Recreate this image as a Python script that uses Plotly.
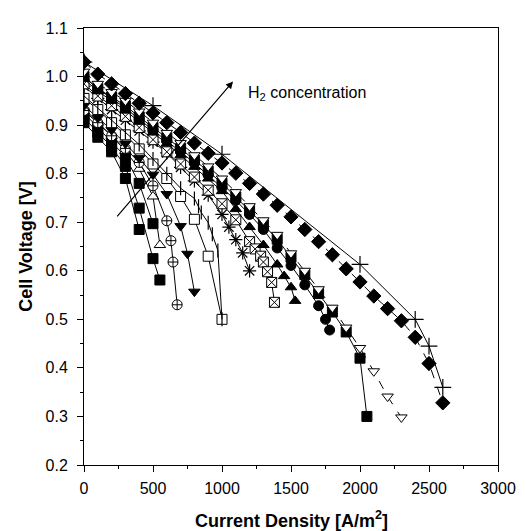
import plotly.graph_objects as go

# ---- data ----
plus_x = [0, 500, 1000, 2000, 2400, 2500, 2600]
plus_y = [1.03, 0.94, 0.84, 0.613, 0.50, 0.445, 0.36]

dia_x = [0, 100, 200, 300, 400, 500, 600, 700, 800, 900, 1000, 1100, 1200, 1300,
         1400, 1500, 1600, 1700, 1800, 1900, 2000, 2100, 2200, 2300, 2400, 2500, 2600]
dia_y = [1.03, 1.005, 0.985, 0.965, 0.945, 0.925, 0.905, 0.885, 0.863, 0.842, 0.822,
         0.801, 0.780, 0.758, 0.735, 0.711, 0.685, 0.660, 0.633, 0.604, 0.577, 0.548,
         0.522, 0.497, 0.463, 0.409, 0.328]

tdo_x = [0, 100, 200, 300, 400, 500, 600, 700, 800, 900, 1000, 1100, 1200, 1300,
         1400, 1500, 1600, 1700, 1800, 1900, 2000, 2100, 2200, 2300]
tdo_y = [1.01, 0.985, 0.968, 0.950, 0.928, 0.905, 0.884, 0.863, 0.838, 0.815, 0.790,
         0.762, 0.733, 0.704, 0.674, 0.636, 0.600, 0.562, 0.524, 0.483, 0.441, 0.393,
         0.341, 0.298]

sqd_x = [0, 100, 200, 300, 400, 500, 600, 700, 800, 900, 1000, 1100, 1200, 1300,
         1400, 1500, 1600, 1700, 1800, 1900, 2000, 2050]
sqd_y = [1.0, 0.975, 0.958, 0.94, 0.917, 0.895, 0.874, 0.852, 0.828, 0.805, 0.78,
         0.752, 0.724, 0.695, 0.665, 0.628, 0.592, 0.553, 0.515, 0.474, 0.42, 0.30]

tu_x = [0, 100, 200, 300, 400, 500, 600, 700, 800, 900, 1000, 1100, 1200, 1300,
        1400, 1450, 1500, 1530]
tu_y = [0.995, 0.97, 0.95, 0.93, 0.907, 0.885, 0.862, 0.838, 0.814, 0.79, 0.764,
        0.727, 0.690, 0.653, 0.613, 0.589, 0.566, 0.538]

cir_x = [0, 100, 200, 300, 400, 500, 600, 700, 800, 900, 1000, 1100, 1200, 1300,
         1400, 1500, 1600, 1700, 1750, 1780]
cir_y = [1.0, 0.975, 0.955, 0.935, 0.912, 0.89, 0.868, 0.845, 0.822, 0.797, 0.771,
         0.745, 0.716, 0.685, 0.647, 0.611, 0.571, 0.528, 0.500, 0.478]

sqx_x = [0, 100, 200, 300, 400, 500, 600, 700, 800, 900, 1000, 1100, 1200, 1240,
         1280, 1300, 1330, 1360, 1380]
sqx_y = [0.985, 0.96, 0.94, 0.918, 0.895, 0.87, 0.845, 0.82, 0.793, 0.766, 0.738,
         0.705, 0.660, 0.645, 0.630, 0.618, 0.598, 0.576, 0.535]

ast_x = [0, 100, 200, 300, 400, 500, 600, 700, 800, 900, 1000, 1050, 1100, 1150, 1200]
ast_y = [0.98, 0.955, 0.932, 0.91, 0.888, 0.865, 0.843, 0.813, 0.785, 0.756, 0.716,
         0.690, 0.664, 0.637, 0.600]

bar_x = [0, 100, 200, 300, 400, 500, 600, 700, 800, 830, 850, 900, 930, 970, 1000]
bar_y = [0.96, 0.935, 0.91, 0.885, 0.86, 0.83, 0.80, 0.77, 0.749, 0.733, 0.72,
         0.699, 0.675, 0.642, 0.50]

sqo_x = [0, 100, 200, 300, 400, 500, 600, 700, 800, 900, 1000]
sqo_y = [0.955, 0.932, 0.905, 0.88, 0.851, 0.820, 0.790, 0.753, 0.706, 0.630, 0.500]

tdf_x = [0, 100, 200, 300, 400, 500, 600, 700, 750, 800]
tdf_y = [0.94, 0.915, 0.89, 0.862, 0.832, 0.798, 0.758, 0.692, 0.635, 0.557]

cc_x = [0, 100, 200, 300, 400, 500, 600, 630, 645, 675]
cc_y = [0.93, 0.905, 0.878, 0.852, 0.823, 0.775, 0.703, 0.662, 0.618, 0.530]

tuo_x = [0, 100, 200, 300, 400, 500, 550]
tuo_y = [0.935, 0.905, 0.878, 0.847, 0.810, 0.753, 0.653]

sqa_x = [0, 100, 200, 300, 400]
sqa_y = [0.905, 0.875, 0.845, 0.790, 0.685]

sqb_x = [0, 100, 200, 300, 400, 500, 550]
sqb_y = [0.915, 0.885, 0.855, 0.815, 0.729, 0.625, 0.581]

sqc_x = [0, 100, 200, 300, 400, 500]
sqc_y = [0.925, 0.895, 0.865, 0.835, 0.780, 0.697]

x_ticks = [0, 500, 1000, 1500, 2000, 2500, 3000]
y_ticks = [0.2, 0.3, 0.4, 0.5, 0.6, 0.7, 0.8, 0.9, 1.0, 1.1]
y_tick_labels = ["0.2", "0.3", "0.4", "0.5", "0.6", "0.7", "0.8", "0.9", "1.0", "1.1"]

FONT = "Liberation Sans, Arial"

# ---- figure ----
fig = go.Figure()

def add(x, y, symbol, fill, dash="solid", size=10, lw=1.0):
    fig.add_trace(go.Scatter(
        x=x, y=y, mode="lines+markers",
        line=dict(color="black", width=1, dash=dash),
        marker=dict(symbol=symbol, size=size, color=fill,
                    line=dict(color="black", width=lw)),
        showlegend=False))

add(sqa_x, sqa_y, "square", "black")
add(sqb_x, sqb_y, "square", "black")
add(sqc_x, sqc_y, "square", "black")
add(tuo_x, tuo_y, "triangle-up", "white")
add(cc_x, cc_y, "circle-cross", "white")
add(tdf_x, tdf_y, "triangle-down", "black")
add(sqo_x, sqo_y, "square", "white")
add(bar_x, bar_y, "line-ns", "black", size=10, lw=1.2)
add(ast_x, ast_y, "asterisk", "black", size=11, lw=1.2)
add(sqx_x, sqx_y, "square-x", "white")
add(tu_x, tu_y, "triangle-up", "black")
add(cir_x, cir_y, "circle", "black")
add(sqd_x, sqd_y, "square", "black")
add(tdo_x, tdo_y, "triangle-down", "white", dash="dash")
add(dia_x, dia_y, "diamond", "black", dash="dash", size=11)
add(plus_x, plus_y, "cross-thin", "black", size=12, lw=1.2)

fig.add_annotation(x=1080, y=0.99, ax=231, ay=0.709, xref="x", yref="y",
                   axref="x", ayref="y", showarrow=True, arrowhead=2,
                   arrowsize=1.2, arrowwidth=1.2, arrowcolor="black", text="")
fig.add_annotation(x=1177, y=0.965, xref="x", yref="y", showarrow=False,
                   text="H<sub>2</sub> concentration", xanchor="left",
                   font=dict(family=FONT, size=16, color="black"))
# x-axis title
fig.add_annotation(x=0.5, y=-0.125, xref="paper", yref="paper", showarrow=False,
                   text="<b>Current Density [A/m<sup>2</sup>]</b>",
                   xanchor="center", yanchor="middle",
                   font=dict(family=FONT, size=18, color="black"))

axis_common = dict(showline=True, linecolor="black", linewidth=1, mirror=True,
                   ticks="outside", ticklen=6, tickwidth=1, tickcolor="black",
                   showgrid=False, zeroline=False,
                   tickfont=dict(family=FONT, size=16, color="black"))

fig.update_layout(
    width=520, height=523,
    margin=dict(l=76, r=21, t=12, b=66),
    paper_bgcolor="white", plot_bgcolor="white",
    xaxis=dict(range=[0, 3000], tickvals=x_ticks, ticklabelstandoff=3,
               minor=dict(dtick=250, ticks="outside", ticklen=3, tickcolor="black"),
               **axis_common),
    yaxis=dict(range=[0.2, 1.1], tickvals=y_ticks, ticktext=y_tick_labels,
               ticklabelstandoff=6,
               minor=dict(dtick=0.05, ticks="outside", ticklen=3, tickcolor="black"),
               title=dict(text="<b>Cell Voltage [V]</b>", standoff=8,
                          font=dict(family=FONT, size=18, color="black")),
               **axis_common),
)

fig.write_html("out.html")
